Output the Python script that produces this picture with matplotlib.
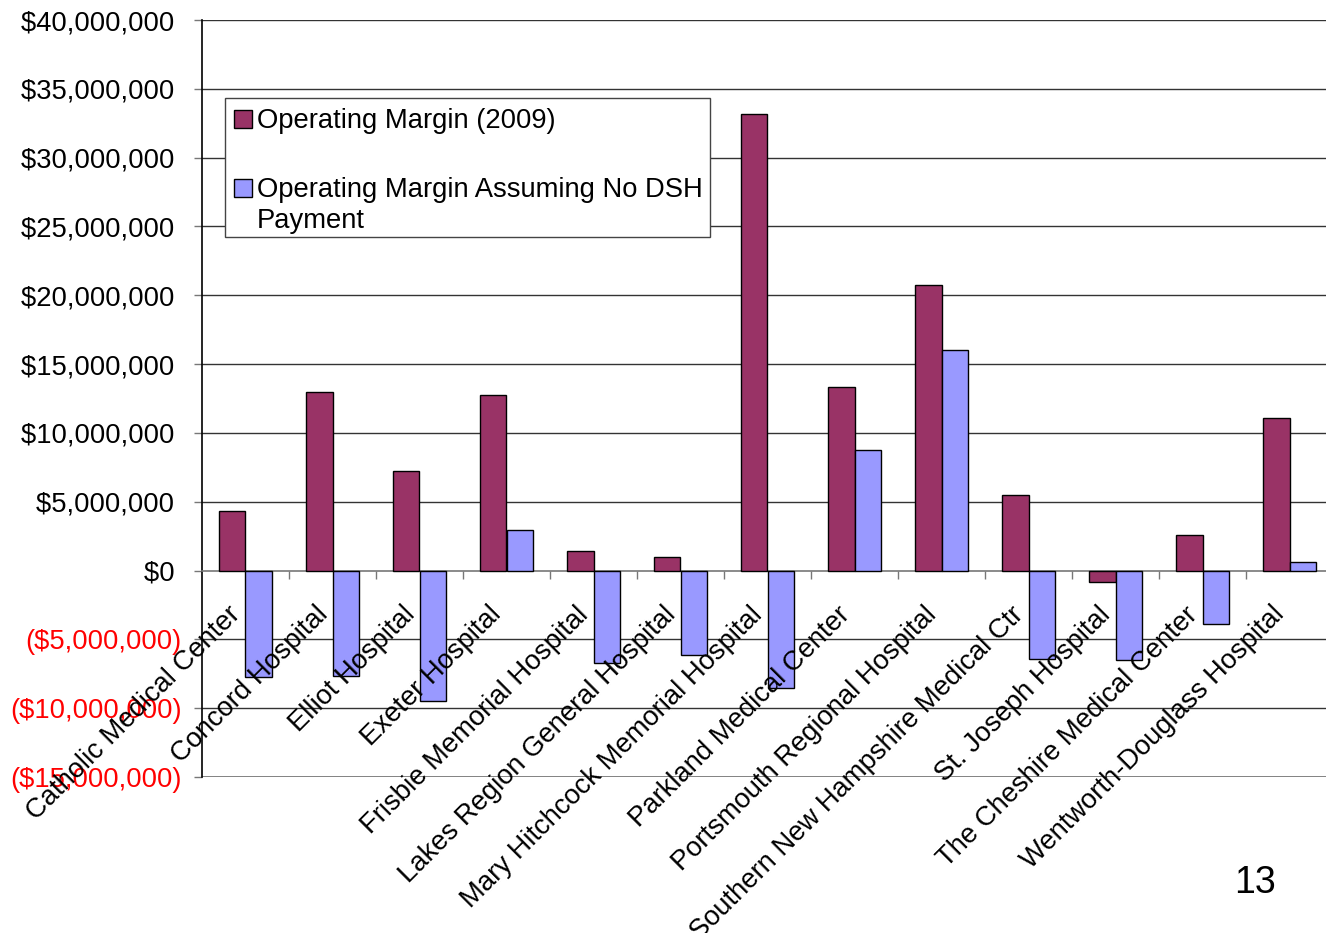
import matplotlib
matplotlib.use('Agg')
from matplotlib import pyplot as plt
from matplotlib.patches import Rectangle
from matplotlib.ticker import FixedLocator
from matplotlib.transforms import ScaledTranslation

plt.rcParams['font.family'] = ['Liberation Sans', 'DejaVu Sans']

# data (dollars)
hospitals = ["Catholic Medical Center", "Concord Hospital", "Elliot Hospital",
             "Exeter Hospital", "Frisbie Memorial Hospital",
             "Lakes Region General Hospital", "Mary Hitchcock Memorial Hospital",
             "Parkland Medical Center", "Portsmouth Regional Hospital",
             "Southern New Hampshire Medical Ctr", "St. Joseph Hospital",
             "The Cheshire Medical Center", "Wentworth-Douglass Hospital"]
margin_2009 = [4.35e6, 12.95e6, 7.25e6, 12.75e6, 1.45e6, 0.95e6, 33.2e6,
               13.3e6, 20.75e6, 5.5e6, -0.85e6, 2.6e6, 11.1e6]
margin_no_dsh = [-7.75e6, -7.65e6, -9.45e6, 2.95e6, -6.7e6, -6.1e6, -8.55e6,
                 8.75e6, 16.0e6, -6.4e6, -6.5e6, -3.9e6, 0.65e6]
series_names = ["Operating Margin (2009)", "Operating Margin Assuming No DSH\nPayment"]
y_ticks = list(range(-15000000, 40000001, 5000000))

maroon = '#993366'
periwinkle = '#9999FF'
FS = 19.7

W, H = 1326, 933
fig = plt.figure(figsize=(W / 100, H / 100), dpi=100)
# plot area: x 202..1333 px, y 20..777 px (right edge runs off the image)
ax = fig.add_axes([202 / W, 1 - 777 / H, 1131 / W, 757 / H])

x = list(range(len(hospitals)))
bw = 0.3
ax.bar([i - bw / 2 for i in x], margin_2009, width=bw, color=maroon,
       edgecolor='black', linewidth=1, zorder=3)
ax.bar([i + bw / 2 for i in x], margin_no_dsh, width=bw, color=periwinkle,
       edgecolor='black', linewidth=1, zorder=3)

ax.set_xlim(-0.5, len(hospitals) - 0.5)
ax.set_ylim(-15000000, 40000000)

# gridlines
for v in y_ticks:
    if v == -15000000:
        ax.axhline(v, color='#777777', lw=2, zorder=1)
    elif v == 0:
        continue
    else:
        ax.axhline(v, color='#333333', lw=1, zorder=1)

for s in ['top', 'right']:
    ax.spines[s].set_visible(False)
ax.spines['left'].set_color('black')
ax.spines['left'].set_linewidth(1.2)
ax.spines['bottom'].set_position(('data', 0))
ax.spines['bottom'].set_color('#777777')
ax.spines['bottom'].set_linewidth(1.2)

# y axis labels: negatives in red, in parentheses
ax.yaxis.set_major_locator(FixedLocator(y_ticks))
ylabels = []
for v in y_ticks:
    if v < 0:
        ylabels.append("(${:,})".format(-v))
    else:
        ylabels.append("${:,} ".format(v))
ax.set_yticklabels(ylabels)
ax.tick_params(axis='y', direction='out', length=6, width=1, color='#777777',
               pad=8.5, labelsize=FS)
for lab, v in zip(ax.get_yticklabels(), y_ticks):
    lab.set_color('red' if v < 0 else 'black')

# x axis: tick marks at category boundaries, names hung below the zero line
ax.set_xticks([])
ax.set_xticks([i + 0.5 for i in x[:-1]], minor=True)
ax.tick_params(axis='x', which='minor', direction='out', length=6, width=1,
               color='#777777')
shift = ScaledTranslation(-18 / 100, -31 / 100, fig.dpi_scale_trans)
for i, name in zip(x, hospitals):
    ax.text(i, 0, name, transform=ax.transData + shift, rotation=45,
            rotation_mode='anchor', ha='right', va='top', fontsize=FS,
            zorder=4, clip_on=False)

# legend box drawn by hand so the marker lines up with the first text line
def axfrac(px, py):
    return (px - 202) / 1131, (777 - py) / 757

lx0, ly0 = axfrac(225, 237)
lx1, ly1 = axfrac(710, 98)
ax.add_patch(Rectangle((lx0, ly0), lx1 - lx0, ly1 - ly0, transform=ax.transAxes,
                       facecolor='white', edgecolor='#444444', lw=1, zorder=5))
for name, col, top in zip(series_names, [maroon, periwinkle], [110, 179]):
    sx, sy = axfrac(234, top + 18)
    sw = 18 / 1131
    sh = 18 / 757
    ax.add_patch(Rectangle((sx, sy), sw, sh, transform=ax.transAxes,
                           facecolor=col, edgecolor='black', lw=1, zorder=6))
    tx, ty = axfrac(257, top - 2)
    ax.text(tx, ty, name, transform=ax.transAxes, ha='left', va='top',
            fontsize=FS, linespacing=1.25, zorder=7)

fig.text(1255 / W, 1 - 883 / H, "13", ha='center', va='center', fontsize=27)

fig.savefig('out.png', dpi=100)
